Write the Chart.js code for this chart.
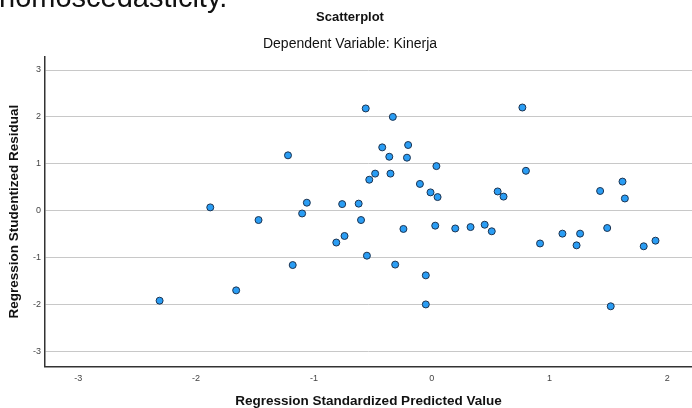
<!DOCTYPE html>
<html>
<head>
<meta charset="utf-8">
<script src="https://cdn.jsdelivr.net/npm/chart.js@4.4.1/dist/chart.umd.min.js"></script>
<style>
  body { margin: 0; background: #fff; }
  #wrap { position: relative; width: 692px; height: 408px; overflow: hidden; }
  #cut { position: absolute; left: -1px; top: -17px; font: 29px/29px Arial, "Liberation Sans", sans-serif; color: #111; white-space: nowrap; }
  canvas { position: absolute; left: 0; top: 0; }
</style>
</head>
<body>
<div id="wrap">
  <canvas id="residChart" width="692" height="408"></canvas>
  <div id="cut">homoscedasticity.</div>
</div>
<script>
// Regression standardized predicted value (x) and studentized residual (y)
const predicted = [-2.31, -1.88, -1.66, -1.47, -1.22, -1.18, -1.10, -1.06, -0.81, -0.76,
                   -0.74, -0.62, -0.60, -0.56, -0.55, -0.53, -0.48, -0.42, -0.36, -0.35,
                   -0.33, -0.31, -0.24, -0.21, -0.20, -0.10, -0.05, -0.05, -0.01, 0.03,
                   0.04, 0.05, 0.20, 0.33, 0.45, 0.51, 0.56, 0.61, 0.77, 0.80,
                   0.92, 1.11, 1.23, 1.26, 1.43, 1.49, 1.52, 1.62, 1.64, 1.80, 1.90];
const residuals = [-1.92, 0.07, -1.70, -0.20, 1.18, -1.16, -0.06, 0.17, -0.68, 0.14,
                   -0.54, 0.15, -0.20, 2.18, -0.96, 0.66, 0.79, 1.35, 1.15, 0.79,
                   2.00, -1.15, -0.39, 1.13, 1.40, 0.57, -1.38, -2.00, 0.39, -0.32,
                   0.95, 0.29, -0.38, -0.35, -0.30, -0.44, 0.41, 0.30, 2.20, 0.85,
                   -0.70, -0.49, -0.74, -0.49, 0.42, -0.37, -2.04, 0.62, 0.26, -0.76, -0.64];
const xTicks = [-3, -2, -1, 0, 1, 2];
const yTicks = [-3, -2, -1, 0, 1, 2, 3];

const fam = 'Arial, "Liberation Sans", sans-serif';
const points = predicted.map((x, i) => ({ x: x, y: residuals[i] }));

const ctx = document.getElementById('residChart').getContext('2d');
new Chart(ctx, {
    type: 'scatter',
    data: {
        datasets: [{
            data: points,
            backgroundColor: '#2a9df4',
            borderColor: '#1c3350',
            borderWidth: 1,
            pointRadius: 3.5
        }]
    },
    options: {
        responsive: false,
        animation: false,
        devicePixelRatio: 1,
        layout: { autoPadding: false, padding: { left: 8, right: 0, top: 0, bottom: 0 } },
        plugins: {
            legend: { display: false },
            tooltip: { enabled: false },
            title: {
                display: true,
                text: 'Scatterplot',
                color: '#111',
                font: { family: fam, size: 13, weight: 'bold' },
                padding: { top: 10, bottom: 3 }
            },
            subtitle: {
                display: true,
                text: 'Dependent Variable: Kinerja',
                color: '#111',
                font: { family: fam, size: 14 },
                padding: { top: 7, bottom: 4.1 }
            }
        },
        scales: {
            x: {
                type: 'linear',
                min: -3.283,
                max: 2.21,
                afterBuildTicks: s => { s.ticks = xTicks.map(v => ({ value: v })); },
                afterFit: s => { s.height = 41.3; },
                grid: { display: false, drawTicks: false },
                border: { display: true, color: '#333', width: 1.5 },
                ticks: { color: '#444', padding: 6, font: { family: fam, size: 9 } },
                title: {
                    display: true,
                    text: 'Regression Standardized Predicted Value',
                    color: '#111',
                    font: { family: fam, size: 13.5, weight: 'bold', lineHeight: 1 },
                    padding: { top: 0, bottom: 0 }
                }
            },
            y: {
                type: 'linear',
                min: -3.328,
                max: 3.288,
                afterBuildTicks: s => { s.ticks = yTicks.map(v => ({ value: v })); },
                afterFit: s => { s.width = 37; },
                grid: { color: '#c8c8c8', lineWidth: 1, drawTicks: false },
                border: { display: true, color: '#333', width: 1.5 },
                ticks: { color: '#444', padding: 4, font: { family: fam, size: 9 } },
                title: {
                    display: true,
                    text: 'Regression Studentized Residual',
                    color: '#111',
                    font: { family: fam, size: 13.5, weight: 'bold', lineHeight: 1 },
                    padding: { top: 0, bottom: 0 }
                }
            }
        }
    }
});
</script>
</body>
</html>
